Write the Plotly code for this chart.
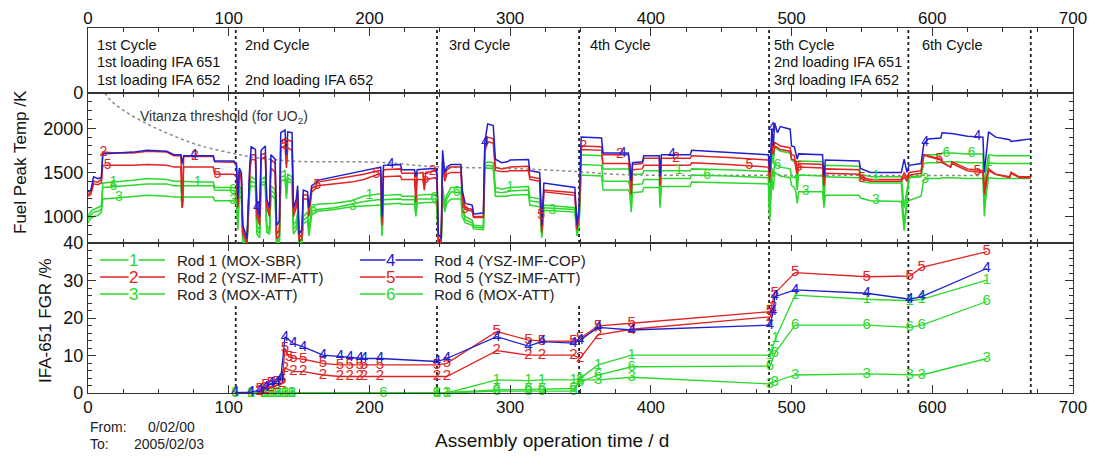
import numpy as np
import plotly.graph_objects as go

# ---------------- Fuel peak temperature (K), per cycle ----------------
c1_days = [0, 2, 4, 7, 9.5, 10.5, 20, 32, 42, 56, 61, 66, 67, 68, 75, 89, 90, 103.5]
c1_r4 = [1280, 1300, 1450, 1430, 1440, 1710, 1720, 1730, 1750, 1740, 1700, 1700, 1600, 1690, 1690, 1690, 1630, 1630]
c1_r2 = [1250, 1280, 1400, 1390, 1420, 1730, 1720, 1720, 1740, 1730, 1690, 1690, 1100, 1680, 1680, 1680, 1620, 1615]
c1_r5 = [1230, 1250, 1370, 1360, 1380, 1580, 1580, 1580, 1590, 1580, 1560, 1560, 1100, 1560, 1560, 1560, 1480, 1480]
c1_r1 = [1000, 1060, 1080, 1100, 1120, 1380, 1390, 1410, 1430, 1420, 1400, 1400, 1150, 1400, 1390, 1390, 1330, 1330]
c1_r6 = [970, 1020, 1050, 1060, 1080, 1330, 1340, 1360, 1370, 1370, 1350, 1350, 1120, 1350, 1350, 1350, 1300, 1295]
c1_r3 = [930, 980, 1000, 1010, 1050, 1200, 1210, 1230, 1240, 1230, 1220, 1220, 1100, 1220, 1220, 1220, 1180, 1180]

c2a_days = [105.5, 106.5, 107.5, 109, 110, 113, 115, 116, 119, 120, 122, 123, 126, 127, 129, 130, 133, 134, 136, 137,
            140, 141, 142, 145, 146, 148, 149, 150, 152, 153, 156, 157, 159, 162]
c2a_r4 = [1600, 1200, 1550, 1500, 900, 750, 1600, 1790, 1760, 1100, 1000, 1750, 1800, 1200, 1100, 1700, 1650, 900, 950, 1950,
          1980, 1700, 1960, 1950, 1100, 1200, 1350, 800, 850, 1300, 1280, 1100, 1350, 1380]
c2a_r2 = [1580, 1150, 1520, 1450, 850, 720, 1550, 1700, 1700, 1050, 950, 1700, 1720, 1150, 1050, 1650, 1600, 800, 850, 1850,
          1880, 1600, 1870, 1850, 1050, 1150, 1300, 760, 800, 1250, 1240, 1050, 1320, 1350]
c2a_r5 = [1450, 1100, 1480, 1420, 800, 700, 1500, 1650, 1640, 1000, 900, 1650, 1680, 1100, 1000, 1550, 1500, 750, 780, 1780,
          1800, 1550, 1780, 1750, 1000, 1100, 1250, 720, 750, 1200, 1200, 1000, 1280, 1320]
c2a_r1 = [1300, 1000, 1350, 1300, 750, 700, 1400, 1450, 1420, 900, 850, 1420, 1450, 900, 850, 1350, 1300, 720, 750, 1500,
          1520, 1300, 1480, 1450, 900, 950, 1050, 700, 720, 1000, 1050, 850, 1100, 1130]
c2a_r6 = [1260, 950, 1300, 1250, 720, 700, 1350, 1400, 1380, 850, 800, 1380, 1400, 850, 820, 1300, 1250, 710, 720, 1450,
          1460, 1250, 1440, 1400, 850, 900, 1000, 700, 710, 950, 1000, 820, 1060, 1080]
c2a_r3 = [1150, 850, 1250, 1200, 700, 700, 1300, 1350, 1330, 800, 760, 1350, 1370, 820, 800, 1250, 1200, 700, 700, 1400,
          1420, 1200, 1400, 1380, 800, 850, 950, 700, 700, 920, 950, 780, 1020, 1050]

c2b_days = [163, 175, 187, 196, 206, 208, 209, 210, 222, 223, 232, 233, 234, 238, 239, 240, 247]
c2b_r4 = [1410, 1450, 1490, 1520, 1560, 1560, 1000, 1580, 1590, 1530, 1530, 1450, 1530, 1540, 1540, 1540, 1545]
c2b_r2 = [1390, 1420, 1450, 1480, 1520, 1520, 950, 1530, 1540, 1490, 1490, 1300, 1490, 1500, 1350, 1500, 1520]
c2b_r5 = [1350, 1370, 1390, 1420, 1480, 1480, 900, 1450, 1460, 1420, 1420, 1160, 1420, 1420, 1300, 1420, 1440]
c2b_r1 = [1140, 1150, 1180, 1230, 1260, 1260, 850, 1240, 1250, 1230, 1230, 1100, 1240, 1250, 1250, 1250, 1250]
c2b_r6 = [1080, 1100, 1140, 1170, 1190, 1190, 800, 1190, 1200, 1190, 1190, 1050, 1200, 1200, 1200, 1200, 1200]
c2b_r3 = [1060, 1080, 1110, 1120, 1130, 1130, 780, 1140, 1150, 1140, 1140, 1000, 1150, 1160, 1160, 1160, 1160]

c3_days = [248, 249, 251, 252, 253.5, 255, 258, 265, 266, 268, 273, 274, 281, 282, 284, 288, 289.5, 294, 298, 300,
           313, 314, 321, 322.5, 324, 346, 347.5, 349]
c3_r4 = [1500, 800, 750, 1750, 1500, 1560, 1590, 1590, 1300, 1150, 1130, 1030, 1040, 1840, 2050, 2030, 1650, 1610, 1620, 1640,
         1645, 1520, 1500, 900, 1380, 1330, 900, 1100]
c3_r2 = [1480, 750, 700, 1650, 1450, 1530, 1560, 1560, 1250, 1100, 1080, 1000, 1000, 1790, 1900, 1880, 1560, 1540, 1550, 1560,
         1570, 1450, 1430, 850, 1300, 1270, 870, 1050]
c3_r5 = [1400, 700, 700, 1600, 1400, 1480, 1500, 1500, 1200, 1080, 1060, 990, 990, 1730, 1850, 1830, 1520, 1510, 1510, 1520,
         1520, 1420, 1400, 820, 1280, 1240, 850, 1000]
c3_r1 = [1200, 700, 700, 1350, 1150, 1240, 1330, 1330, 1150, 1000, 960, 900, 890, 1600, 1620, 1610, 1330, 1310, 1320, 1330,
         1340, 1220, 1200, 800, 1130, 1100, 820, 950]
c3_r6 = [1150, 700, 700, 1300, 1100, 1200, 1280, 1270, 1100, 960, 930, 880, 870, 1570, 1580, 1570, 1280, 1270, 1280, 1290,
         1300, 1180, 1160, 780, 1100, 1080, 800, 920]
c3_r3 = [1100, 700, 700, 1250, 1050, 1150, 1200, 1200, 1000, 930, 900, 860, 850, 1540, 1550, 1540, 1230, 1230, 1230, 1240,
         1250, 1130, 1110, 760, 1070, 1050, 780, 900]

c4_days = [350.5, 365, 366, 384, 385, 386, 387, 394, 395, 406, 406.5, 407.5, 428, 429, 455, 483.5]
c4_r4 = [1900, 1890, 1720, 1720, 1600, 1400, 1610, 1620, 1690, 1690, 1450, 1700, 1700, 1750, 1730, 1700]
c4_r2 = [1800, 1790, 1700, 1700, 1580, 1300, 1590, 1600, 1660, 1660, 1400, 1660, 1660, 1690, 1670, 1640]
c4_r5 = [1760, 1750, 1600, 1600, 1520, 1250, 1530, 1540, 1580, 1580, 1350, 1580, 1580, 1610, 1590, 1560]
c4_r1 = [1700, 1690, 1540, 1540, 1470, 1150, 1480, 1480, 1520, 1520, 1200, 1520, 1520, 1540, 1530, 1510]
c4_r6 = [1590, 1580, 1400, 1400, 1350, 1100, 1360, 1370, 1420, 1420, 1150, 1430, 1430, 1470, 1460, 1440]
c4_r3 = [1470, 1460, 1300, 1300, 1260, 1050, 1270, 1280, 1330, 1330, 1100, 1340, 1340, 1390, 1380, 1370]

c5_days = [484.5, 486, 487, 488, 490, 492, 499, 500, 502, 503, 504, 505, 522, 523, 524, 548, 549, 556, 578, 580, 582]
c5_r4 = [1500, 2000, 1800, 2060, 1950, 2020, 1990, 1800, 1790, 1710, 1650, 1710, 1700, 1450, 1640, 1630, 1545, 1500, 1500, 1650, 1500]
c5_r2 = [1450, 1840, 1780, 1840, 1820, 1800, 1780, 1700, 1690, 1600, 1500, 1600, 1590, 1400, 1540, 1530, 1450, 1420, 1420, 1500, 1430]
c5_r5 = [1400, 1820, 1700, 1800, 1780, 1760, 1740, 1650, 1640, 1560, 1480, 1560, 1550, 1350, 1490, 1480, 1430, 1400, 1400, 1450, 1400]
c5_r1 = [1050, 1750, 1600, 1780, 1760, 1740, 1720, 1640, 1620, 1630, 1400, 1630, 1620, 1200, 1580, 1570, 1480, 1450, 1450, 1100, 1300]
c5_r6 = [1000, 1550, 1450, 1600, 1580, 1560, 1540, 1450, 1440, 1470, 1300, 1470, 1460, 1150, 1450, 1440, 1400, 1380, 1380, 900, 1200]
c5_r3 = [950, 1450, 1300, 1500, 1480, 1460, 1440, 1350, 1330, 1280, 1150, 1280, 1280, 1100, 1240, 1240, 1210, 1180, 1170, 840, 1150]

c6_days = [583.5, 592, 594, 597, 606, 607, 613, 614, 625, 636, 637, 638, 640, 645, 655, 656, 662, 670]
c6_r4 = [1580, 1600, 1820, 1880, 1890, 1950, 1940, 1940, 1910, 1900, 1500, 1650, 1960, 1900, 1870, 1850, 1860, 1880]
c6_r2 = [1500, 1520, 1700, 1690, 1650, 1620, 1560, 1620, 1540, 1520, 1300, 1400, 1540, 1480, 1450, 1500, 1450, 1450]
c6_r5 = [1470, 1490, 1700, 1680, 1640, 1610, 1560, 1600, 1520, 1500, 1250, 1350, 1520, 1480, 1440, 1490, 1440, 1440]
c6_r1 = [1450, 1460, 1600, 1610, 1610, 1620, 1620, 1620, 1610, 1610, 1150, 1300, 1610, 1600, 1600, 1600, 1600, 1600]
c6_r6 = [1440, 1450, 1690, 1700, 1700, 1720, 1720, 1720, 1710, 1710, 1300, 1500, 1700, 1690, 1690, 1690, 1690, 1690]
c6_r3 = [1180, 1230, 1420, 1430, 1430, 1440, 1440, 1440, 1430, 1430, 1000, 1200, 1440, 1430, 1430, 1430, 1430, 1430]

# Vitanza threshold (for UO2)
vitanza_days = [12, 16, 25, 44, 60, 79, 103, 122, 150, 206, 247, 300, 347, 380, 500, 635]
vitanza_temp = [2400, 2318, 2205, 2034, 1920, 1807, 1716, 1660, 1625, 1615, 1565, 1545, 1510, 1475, 1468, 1465]

# Where the rod numbers are written along the temperature curves (days)
temp_label_days = {
    1: [18, 78, 200, 300, 420, 560, 640],
    2: [11, 76, 245, 352, 378, 418],
    3: [22, 103, 188, 330, 510, 560, 595],
    4: [75, 120, 215, 282, 380, 415, 486, 595, 632],
    5: [14, 92, 140, 163, 205, 240, 268, 322, 470, 505, 550, 605, 632],
    6: [18, 103, 160, 246, 262, 440, 490, 610, 628],
}

# ---------------- IFA-651 fission gas release (%) ----------------
fgr_rod1_days = [104.5, 115.7, 125, 130, 135, 140, 145, 248, 255, 290.5, 313, 322.5, 345, 349.7, 362.5, 386.4,
                 484.7, 486, 488.6, 502.5, 553.4, 584, 592.5, 638.7]
fgr_rod1 = [0.1, 0.0, 0.0, 0.0, 0.0, 0.0, 0.0, 0.0, 0.0, 3.5, 3.3, 3.5, 3.5, 3.9, 7.5, 10.1,
            10.1, 11.5, 14.6, 26.1, 25.0, 24.6, 25.0, 30.1]
fgr_rod2_days = [122, 126, 130, 134, 138, 140, 146, 153, 167, 179, 186, 193, 196, 207.5, 248, 255, 290.5, 313,
                 322.5, 345, 349.7, 362.5, 386.4, 484.7, 487]
fgr_rod2 = [0.5, 1.0, 1.5, 2.0, 2.5, 6.6, 5.7, 5.7, 4.8, 4.4, 4.4, 4.4, 4.4, 4.4, 4.4, 4.4, 11.3, 10.1,
            10.1, 10.1, 9.2, 15.5, 17.0, 20.3, 23.0]
fgr_rod3_days = [125, 130, 135, 140, 145, 248, 255, 290.5, 313, 322.5, 345, 349.7, 362.5, 386.4, 484.7, 488,
                 502.5, 553.4, 584, 592.5, 638.7]
fgr_rod3 = [0.0, 0.0, 0.0, 0.0, 0.0, 0.0, 0.0, 0.5, 0.5, 0.5, 0.5, 3.5, 3.5, 4.2, 2.4, 3.0,
            4.8, 5.1, 4.8, 4.8, 9.2]
fgr_rod4_days = [104.5, 115.7, 122, 126, 130, 134, 137, 140, 146, 153, 167, 179, 186, 193, 196, 207.5, 248, 255,
                 290.5, 313, 322.5, 345, 349.7, 362.5, 386.4, 484.7, 487, 488, 502.5, 553.4, 584, 592.5, 638.7]
fgr_rod4 = [0.1, 0.2, 0.8, 1.5, 2.5, 3.0, 4.0, 15.0, 13.2, 12.3, 10.1, 9.7, 9.6, 9.3, 9.2, 9.2, 8.4, 9.2,
            15.0, 12.5, 13.7, 13.3, 14.1, 17.5, 16.8, 18.1, 21.7, 25.7, 27.5, 26.6, 25.0, 25.7, 33.2]
fgr_rod5_days = [122, 126, 130, 134, 138, 140, 143, 146, 153, 167, 179, 186, 193, 196, 207.5, 248, 255, 290.5,
                 313, 322.5, 345, 349.7, 362.5, 386.4, 484.7, 488, 502.5, 553.4, 584, 592.5, 638.7]
fgr_rod5 = [1.0, 2.0, 2.5, 3.0, 3.5, 11.9, 9.5, 9.3, 9.0, 7.9, 7.5, 7.5, 7.5, 7.5, 7.5, 7.5, 7.9, 16.4,
            14.1, 13.9, 13.8, 14.6, 17.9, 18.6, 21.7, 26.6, 32.1, 31.0, 31.2, 33.5, 37.7]
fgr_rod6_days = [104.5, 115.7, 125, 130, 135, 140, 145, 210, 248, 290.5, 313, 322.5, 345, 349.7, 362.5, 386.4,
                 484.7, 488, 502.5, 553.4, 584, 592.5, 638.7]
fgr_rod6 = [0.0, 0.0, 0.0, 0.0, 0.0, 0.0, 0.0, 0.0, 0.0, 0.8, 1.0, 1.0, 1.2, 3.0, 4.8, 7.0,
            7.2, 10.6, 18.1, 18.1, 17.5, 18.1, 24.4]

rod_names = ["Rod 1 (MOX-SBR)", "Rod 2 (YSZ-IMF-ATT)", "Rod 3 (MOX-ATT)",
             "Rod 4 (YSZ-IMF-COP)", "Rod 5 (YSZ-IMF-ATT)", "Rod 6 (MOX-ATT)"]

# Cycles
cycle_bounds = [105, 248, 349, 484, 583, 670]
cycle_text_day = [5, 110, 255, 355, 486, 591]
cycle_line1 = ["1st Cycle", "2nd Cycle", "3rd Cycle", "4th Cycle", "5th Cycle", "6th Cycle"]
cycle_line2 = ["1st loading IFA 651", "", "", "", "2nd loading IFA 651", ""]
cycle_line3 = ["1st loading IFA 652", "2nd loading IFA 652", "", "", "3rd loading IFA 652", ""]

x_ticks = [0, 100, 200, 300, 400, 500, 600, 700]
temp_ticks = [1000, 1500, 2000]
fgr_ticks = [0, 10, 20, 30, 40]

# ---------------- assemble ----------------
temp_days = c1_days + c2a_days + c2b_days + c3_days + c4_days + c5_days + c6_days
temp = {
    1: c1_r1 + c2a_r1 + c2b_r1 + c3_r1 + c4_r1 + c5_r1 + c6_r1,
    2: c1_r2 + c2a_r2 + c2b_r2 + c3_r2 + c4_r2 + c5_r2 + c6_r2,
    3: c1_r3 + c2a_r3 + c2b_r3 + c3_r3 + c4_r3 + c5_r3 + c6_r3,
    4: c1_r4 + c2a_r4 + c2b_r4 + c3_r4 + c4_r4 + c5_r4 + c6_r4,
    5: c1_r5 + c2a_r5 + c2b_r5 + c3_r5 + c4_r5 + c5_r5 + c6_r5,
    6: c1_r6 + c2a_r6 + c2b_r6 + c3_r6 + c4_r6 + c5_r6 + c6_r6,
}
for k in temp:
    assert len(temp[k]) == len(temp_days), (k, len(temp[k]), len(temp_days))

fgr = {1: (fgr_rod1_days, fgr_rod1), 2: (fgr_rod2_days, fgr_rod2), 3: (fgr_rod3_days, fgr_rod3),
       4: (fgr_rod4_days, fgr_rod4), 5: (fgr_rod5_days, fgr_rod5), 6: (fgr_rod6_days, fgr_rod6)}
for k in fgr:
    assert len(fgr[k][0]) == len(fgr[k][1]), k

GREEN = "#2cd82c"
RED = "#e02424"
BLUE = "#2020d0"
colors = {1: GREEN, 2: RED, 3: GREEN, 4: BLUE, 5: RED, 6: GREEN}
FONT = "Liberation Sans, Arial, Helvetica, sans-serif"
AX = "#333333"

# The page body adds an 8 px margin, so the figure is drawn 8 px smaller and
# every target position (given in window pixels) is shifted back by 8 px.
OFF = 8
W, H = 1098 - OFF, 459 - OFF
L, R, T, B = 88 - OFF, 25, 28 - OFF, 66
PW, PH = W - L - R, H - T - B


def px_x(p):
    return (p - OFF - L) / PW


def px_y(p):
    return (H - B - (p - OFF)) / PH


fig = go.Figure()
order = [3, 6, 1, 5, 2, 4]

# threshold
fig.add_trace(go.Scatter(x=vitanza_days, y=vitanza_temp, mode="lines", xaxis="x2", yaxis="y2",
                         line=dict(color="#8a8a8a", width=1.5, dash="dot", shape="spline"),
                         showlegend=False, hoverinfo="skip"))

for r in order:
    fig.add_trace(go.Scatter(x=temp_days, y=temp[r], mode="lines", xaxis="x2", yaxis="y2",
                             line=dict(color=colors[r], width=1.5), showlegend=False))
for r in order:
    ld = temp_label_days[r]
    fig.add_trace(go.Scatter(x=ld, y=np.interp(ld, temp_days, temp[r]), mode="text",
                             text=[str(r)] * len(ld), xaxis="x2", yaxis="y2",
                             textfont=dict(color=colors[r], size=14, family=FONT),
                             showlegend=False, hoverinfo="skip"))

for r in order:
    d, v = fgr[r]
    fig.add_trace(go.Scatter(x=d, y=v, mode="lines+text", text=[str(r)] * len(d), xaxis="x", yaxis="y",
                             textposition="middle center", cliponaxis=False,
                             textfont=dict(color=colors[r], size=15, family=FONT),
                             line=dict(color=colors[r], width=1.3), showlegend=False))

y_fgr = [0, px_y(243)]
y_temp = [px_y(243), px_y(93)]
y_cyc = [px_y(93), 1.0]

common_x = dict(range=[0, 700], tickvals=x_ticks, ticks="inside", ticklen=8, tickwidth=1.2, tickcolor=AX,
                minor=dict(dtick=25, tick0=0, ticks="inside", ticklen=4, tickcolor=AX),
                mirror="allticks", showline=True, linecolor=AX, linewidth=1.2, automargin=False,
                showgrid=False, zeroline=False, tickfont=dict(size=17, color="#111", family=FONT))
common_y = dict(ticks="inside", ticklen=8, tickwidth=1.2, tickcolor=AX, mirror="allticks", automargin=False,
                showline=True, linecolor=AX, linewidth=1.2, showgrid=False, zeroline=False,
                tickfont=dict(size=18, color="#111", family=FONT))

shapes = []
for d in cycle_bounds:
    shapes.append(dict(type="line", xref="x", yref="paper", x0=d, x1=d, y0=0, y1=1, layer="below",
                       line=dict(color="#222", width=1.8, dash="dot")))
# white legend box
shapes.append(dict(type="rect", xref="paper", yref="paper", x0=px_x(92), x1=px_x(600),
                   y0=px_y(305), y1=px_y(245), layer="below", line=dict(width=0), fillcolor="white"))

annotations = []
# legend
leg_rows = [260, 277, 294]
leg_cols = [(100, 165, 133, 175), (360, 423, 390, 432)]
for i, r in enumerate([1, 2, 3, 4, 5, 6]):
    c = leg_cols[i // 3]
    yy = px_y(leg_rows[i % 3])
    shapes.append(dict(type="line", xref="paper", yref="paper", x0=px_x(c[0]), x1=px_x(c[1]), y0=yy, y1=yy,
                       line=dict(color=colors[r], width=1.5)))
    annotations.append(dict(x=px_x(c[2]), y=yy, xref="paper", yref="paper", text=str(r), showarrow=False,
                            font=dict(size=17, color=colors[r], family=FONT), bgcolor="white",
                            xanchor="center", yanchor="middle", borderpad=0))
    annotations.append(dict(x=px_x(c[3]), y=yy, xref="paper", yref="paper", text=rod_names[i], showarrow=False,
                            font=dict(size=15, color="#222", family=FONT), xanchor="left", yanchor="middle"))

# cycle texts
for i in range(6):
    for line_txt, ypx in ((cycle_line1[i], 45), (cycle_line2[i], 62), (cycle_line3[i], 80)):
        if line_txt:
            annotations.append(dict(x=cycle_text_day[i], y=px_y(ypx), xref="x", yref="paper", text=line_txt,
                                    showarrow=False, xanchor="left", yanchor="middle",
                                    font=dict(size=14.5, color="#111", family=FONT)))


def note(text, xp, yp, size, xanchor="center", angle=0, color="#111"):
    return dict(x=px_x(xp), y=px_y(yp), xref="paper", yref="paper", text=text, textangle=angle,
                showarrow=False, xanchor=xanchor, yanchor="middle", font=dict(size=size, color=color, family=FONT))


annotations += [
    dict(x=97, y=2125, xref="x2", yref="y2", text="Vitanza threshold (for UO<sub>2</sub>)", showarrow=False,
         xanchor="center", yanchor="middle", font=dict(size=14, color="#333", family=FONT)),
    note("Fuel Peak Temp /K", 20, 162, 17, angle=-90),
    note("IFA-651 FGR /%", 45, 321, 17, angle=-90),
    note("Assembly operation time / d", 552, 440, 19),
    note("From:", 88, 427, 14, xanchor="left", color="#222"),
    note("0/02/00", 146, 427, 14, xanchor="left", color="#222"),
    note("To:", 88, 444, 14, xanchor="left", color="#222"),
    note("2005/02/03", 132, 444, 14, xanchor="left", color="#222"),
]

fig.update_layout(
    width=W, height=H, margin=dict(l=L, r=R, t=T, b=B, autoexpand=False),
    paper_bgcolor="white", plot_bgcolor="rgba(0,0,0,0)",
    font=dict(family=FONT, color="#111"),
    showlegend=False,
    xaxis=dict(anchor="y", domain=[0, 1], ticklabelstandoff=-2, **common_x),
    xaxis2=dict(anchor="y2", domain=[0, 1], matches="x", showticklabels=False, **common_x),
    xaxis3=dict(anchor="y3", domain=[0, 1], matches="x", side="top", showticklabels=True,
                ticklabelstandoff=-4, **common_x),
    yaxis=dict(anchor="x", domain=y_fgr, range=[0, 40], tickvals=fgr_ticks,
               minor=dict(dtick=2, tick0=0, ticks="inside", ticklen=4, tickcolor=AX), **common_y),
    yaxis2=dict(anchor="x2", domain=y_temp, range=[700, 2400], tickvals=temp_ticks,
                minor=dict(dtick=100, tick0=0, ticks="inside", ticklen=4, tickcolor=AX), **common_y),
    yaxis3=dict(anchor="x3", domain=y_cyc, range=[0, 1], tickvals=[0], **common_y),
    shapes=shapes,
    annotations=annotations,
)
# dummy trace so the top panel axes are drawn
fig.add_trace(go.Scatter(x=[None], y=[None], xaxis="x3", yaxis="y3", showlegend=False, hoverinfo="skip"))

fig.write_html("out.html")
